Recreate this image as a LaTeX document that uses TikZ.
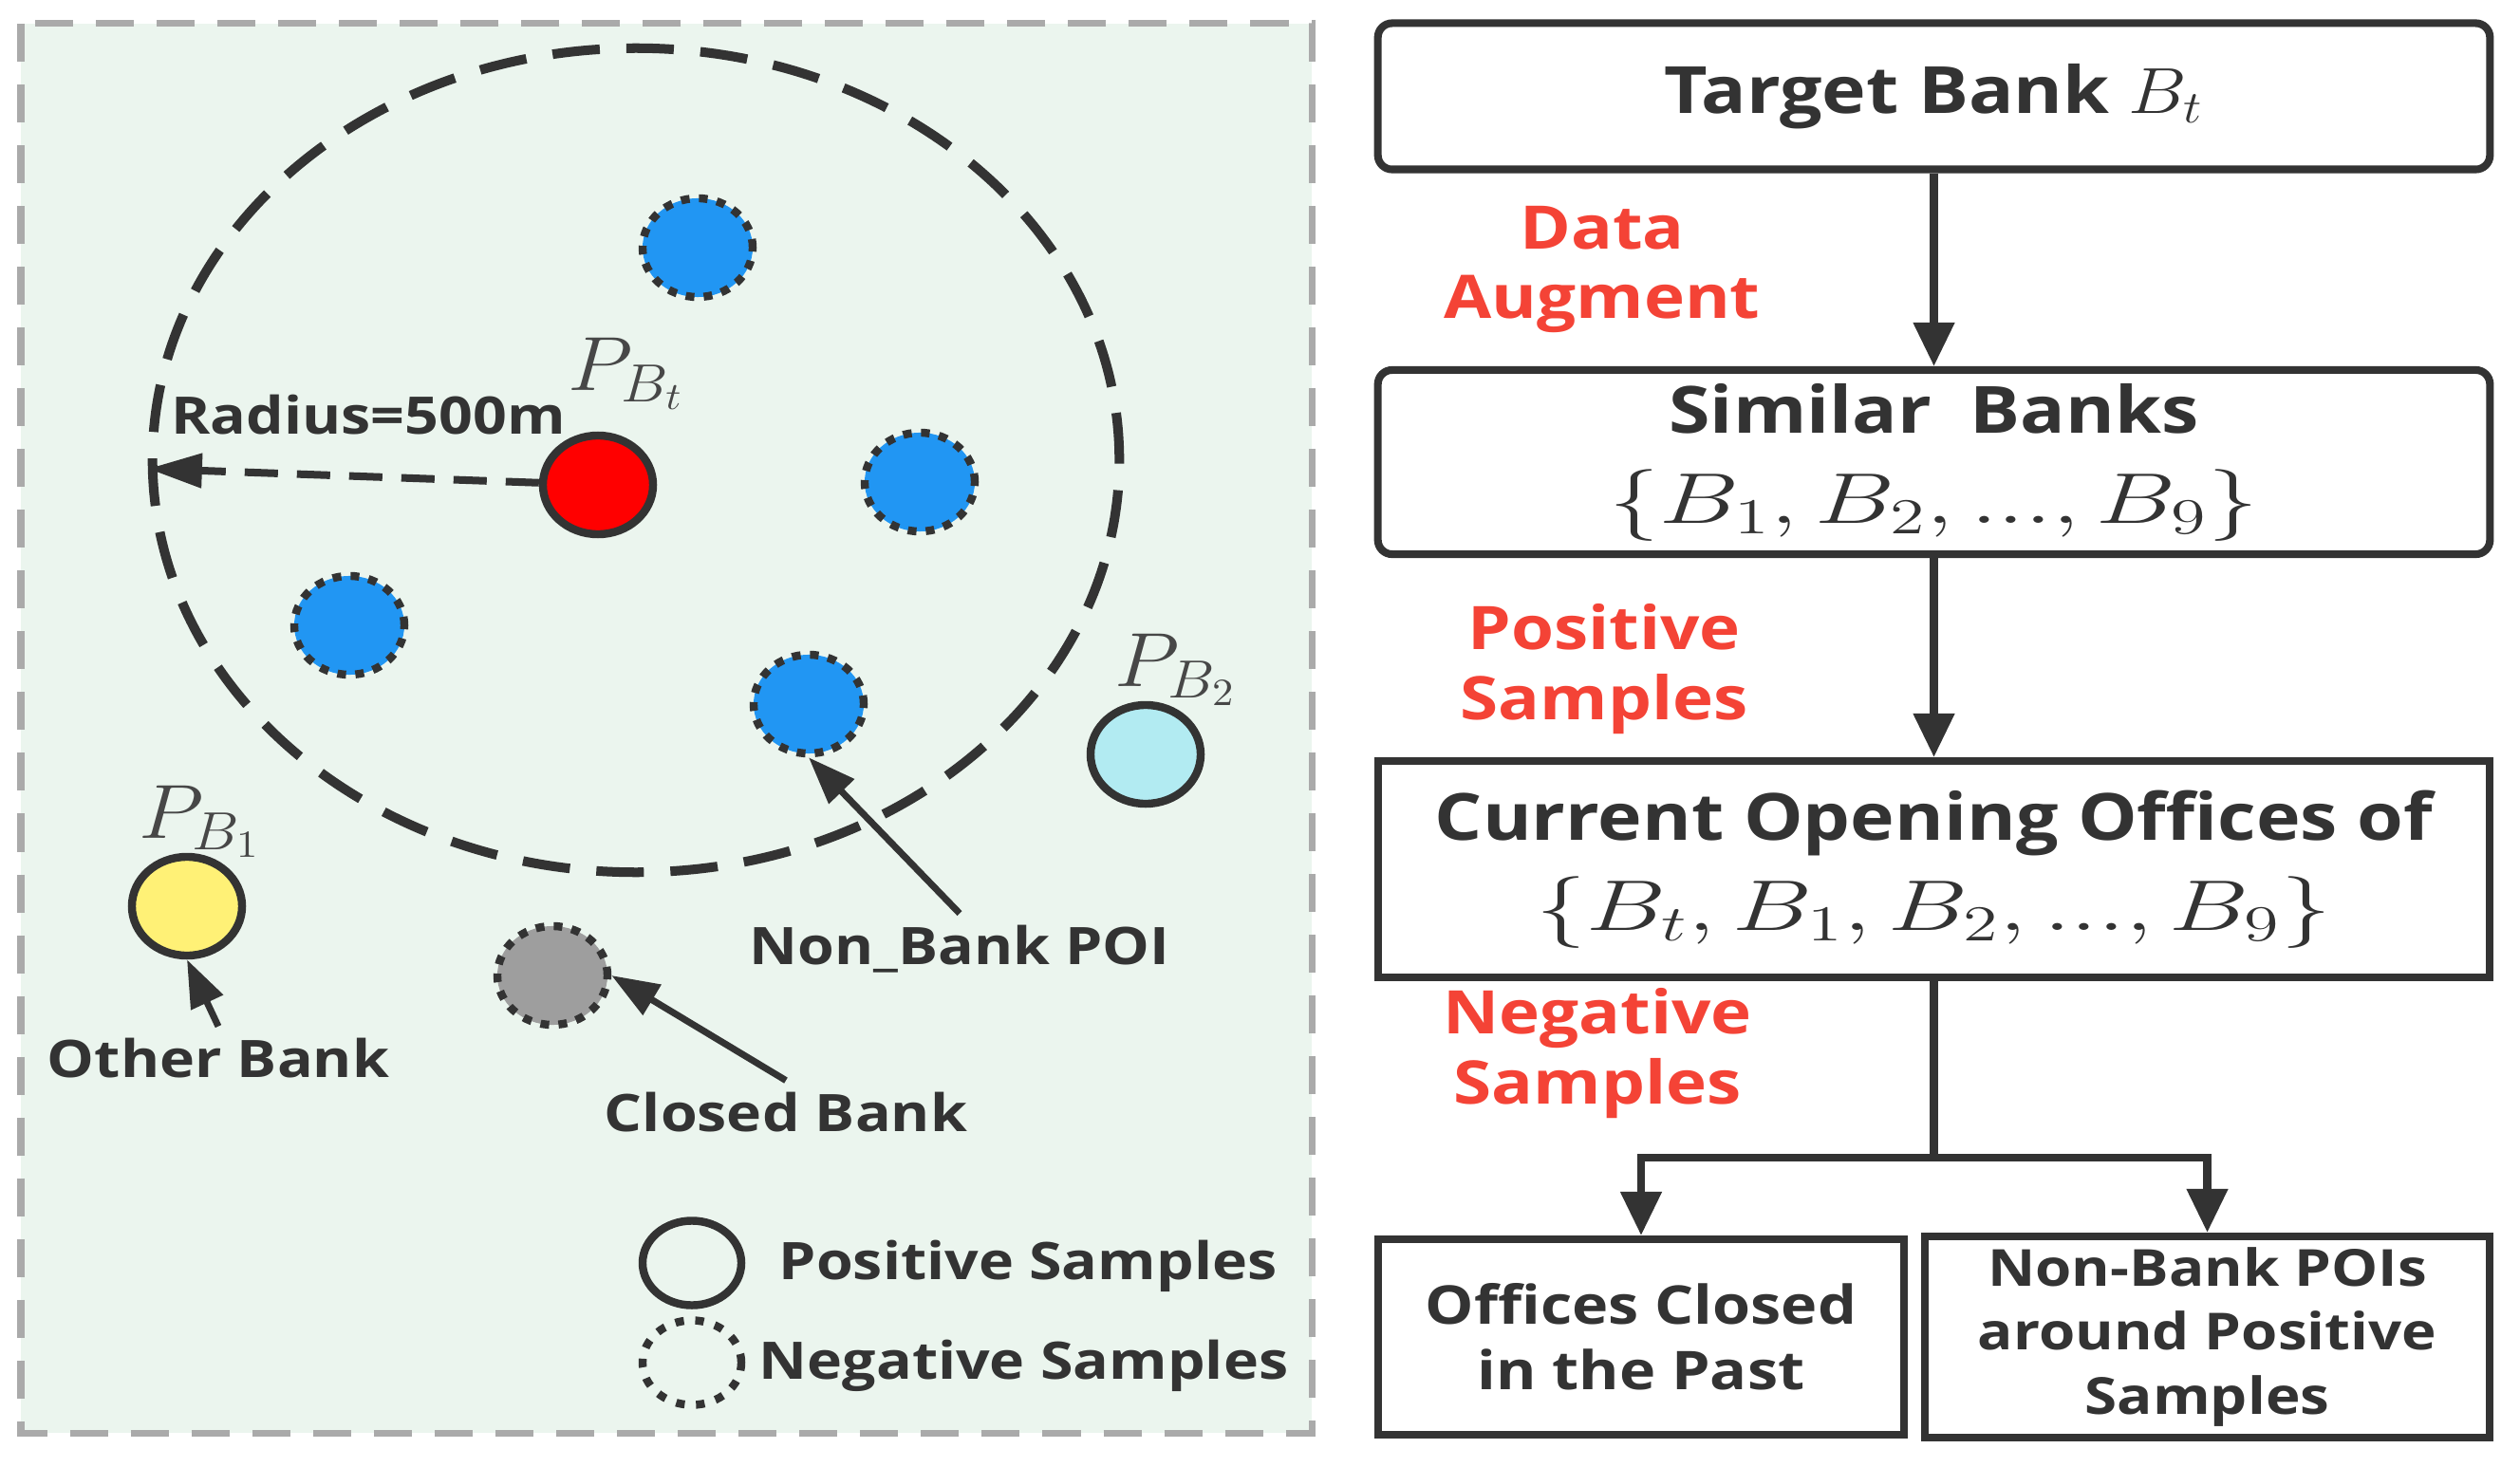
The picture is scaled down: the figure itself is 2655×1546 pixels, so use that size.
\RequirePackage{fix-cm}
\documentclass[tikz,border=0pt]{standalone}
\usepackage{amsmath}
\usepackage{graphicx}
\usepackage[no-math]{fontspec}
\setmainfont{Open Sans}[FakeStretch=1.15]
\usepackage{tikz}
\usetikzlibrary{arrows.meta}
\usetikzlibrary{shapes.geometric}
\definecolor{panelbg}{HTML}{EBF5EE}
\definecolor{panelln}{HTML}{AAAAAA}
\definecolor{inkdark}{HTML}{333333}
\definecolor{poiblue}{HTML}{2196F3}
\definecolor{bankred}{HTML}{FF0000}
\definecolor{bankcyan}{HTML}{B2EBF2}
\definecolor{bankyellow}{HTML}{FFF176}
\definecolor{closedgray}{HTML}{9E9E9E}
\definecolor{notered}{HTML}{F44336}
\newcommand{\fsz}[2]{\fontsize{#1}{#2}\selectfont}
\newcommand{\widemath}[2]{\scalebox{#1}[1]{$#2$}}
\tikzset{
  site/.style={ellipse, minimum width=1.16cm, minimum height=1.04cm, inner sep=0pt, draw=inkdark, line width=2.4pt},
  negsite/.style={site, dash pattern=on 2.6pt off 2.8pt},
  keysite/.style={ellipse, minimum width=1.04cm, minimum height=0.89cm, inner sep=0pt, draw=inkdark},
  maplbl/.style={text=inkdark, font=\bfseries\fsz{15.5}{19}},
  plbl/.style={text=inkdark!90, font=\fsz{23}{26}},
  redlbl/.style={text=notered, font=\bfseries\fsz{18}{21}, align=center},
  stagebox/.style={draw=inkdark, line width=2.3pt, minimum width=11.71cm, text=inkdark, align=center, font=\bfseries\fsz{19.5}{27}},
  leafbox/.style={draw=inkdark, line width=2.3pt, minimum height=2.06cm, text=inkdark, align=center, font=\bfseries\fsz{16}{19.5}},
  flow/.style={draw=inkdark, line width=2.3pt, -{Triangle[length=0.46cm,width=0.42cm]}},
  ptr/.style={draw=inkdark, line width=2pt, -{Triangle[length=0.5cm,width=0.36cm]}}
}
\begin{document}
\begin{tikzpicture}[x=0.01cm,y=-0.01cm]
\useasboundingbox (0,0) rectangle (2655,1546);
\draw[panelln, fill=panelbg, line width=0.07cm, dash pattern=on 0.4cm off 0.24cm] (22,25) rectangle (1382,1510);
\node[ellipse, draw=inkdark, line width=0.1cm, dash pattern=on 0.5cm off 0.28cm, minimum width=10.18cm, minimum height=8.68cm] (ring) at (670,485) {};
\node[site, fill=bankred] (pbt) at (630,511) {};
\node[negsite, fill=poiblue] (poia) at (735,261) {};
\node[negsite, fill=poiblue] (poib) at (969,508) {};
\node[negsite, fill=poiblue] (poic) at (368,659) {};
\node[negsite, fill=poiblue] (poid) at (852,742) {};
\node[site, fill=bankcyan] (pb2) at (1207,795) {};
\node[site, fill=bankyellow] (pb1) at (197,955) {};
\node[negsite, fill=closedgray] (closed) at (582,1028) {};
\node[plbl] (pbtlbl) at (660,394) {\widemath{1.1}{P_{B_t}}};
\node[plbl] (pb2lbl) at (1239,706) {\widemath{1.1}{P_{B_2}}};
\node[plbl] (pb1lbl) at (211,866) {\widemath{1.1}{P_{B_1}}};
\node[maplbl] (radius) at (388,437) {Radius=500m};
\node[maplbl] (nonbank) at (1011,1000) {Non\_Bank POI};
\node[maplbl] (closedlbl) at (828,1172) {Closed Bank};
\node[maplbl] (otherlbl) at (230,1115) {Other Bank};
\draw[inkdark, line width=0.08cm, dash pattern=on 0.35cm off 0.2cm, -{Triangle[length=0.57cm,width=0.35cm]}] (pbt) -- (ring.181);
\draw[ptr] (nonbank.north) -- (poid.south);
\draw[ptr] (closedlbl.north) -- (closed.east);
\draw[ptr] (otherlbl.north) -- (pb1.south);
\node[keysite, line width=2.4pt] (keypos) at (729,1331) {};
\node[keysite, line width=2.4pt, dash pattern=on 2.6pt off 3.4pt] (keyneg) at (729,1436) {};
\node[maplbl, anchor=west, inner sep=0pt] (keypostxt) at (820,1334) {Positive Samples};
\node[maplbl, anchor=west, inner sep=0pt] (keynegtxt) at (799,1439) {Negative Samples};
\node[stagebox, rounded corners=0.15cm, minimum height=1.54cm] (target) at (2037.5,101.5) {Target Bank \widemath{1.13}{\fsz{23}{27}B_t}};
\node[stagebox, rounded corners=0.15cm, minimum height=1.94cm] (similar) at (2037.5,487) {Similar~ Banks\\ \fsz{21.5}{27}\widemath{1.4}{\{B_1, B_2, ..., B_9\}}};
\node[stagebox, minimum height=2.28cm] (current) at (2037.5,916) {Current Opening Offices of\\ \fsz{21.5}{27}\widemath{1.4}{\{B_t, B_1, B_2, ..., B_9\}}};
\node[leafbox, minimum width=5.54cm] (closedpast) at (1729,1409) {Offices Closed\\ in the Past};
\node[leafbox, minimum width=5.95cm, font=\bfseries\fsz{15.3}{19.2}] (nonbankpoi) at (2325.5,1409) {Non-Bank POIs\\ around Positive\\ Samples};
\node[redlbl] (augment) at (1688,284) {Data\\ Augment};
\node[redlbl] (possamp) at (1690,705) {Positive\\ Samples};
\node[redlbl] (negsamp) at (1683,1110) {Negative\\ Samples};
\coordinate (split) at (2037.5,1220);
\draw[flow] (target) -- (similar);
\draw[flow] (similar) -- (current);
\draw[inkdark, line width=2.3pt] (current) -- (split);
\draw[flow] (split) -| (closedpast);
\draw[flow] (split) -| (nonbankpoi);
\end{tikzpicture}
\end{document}
